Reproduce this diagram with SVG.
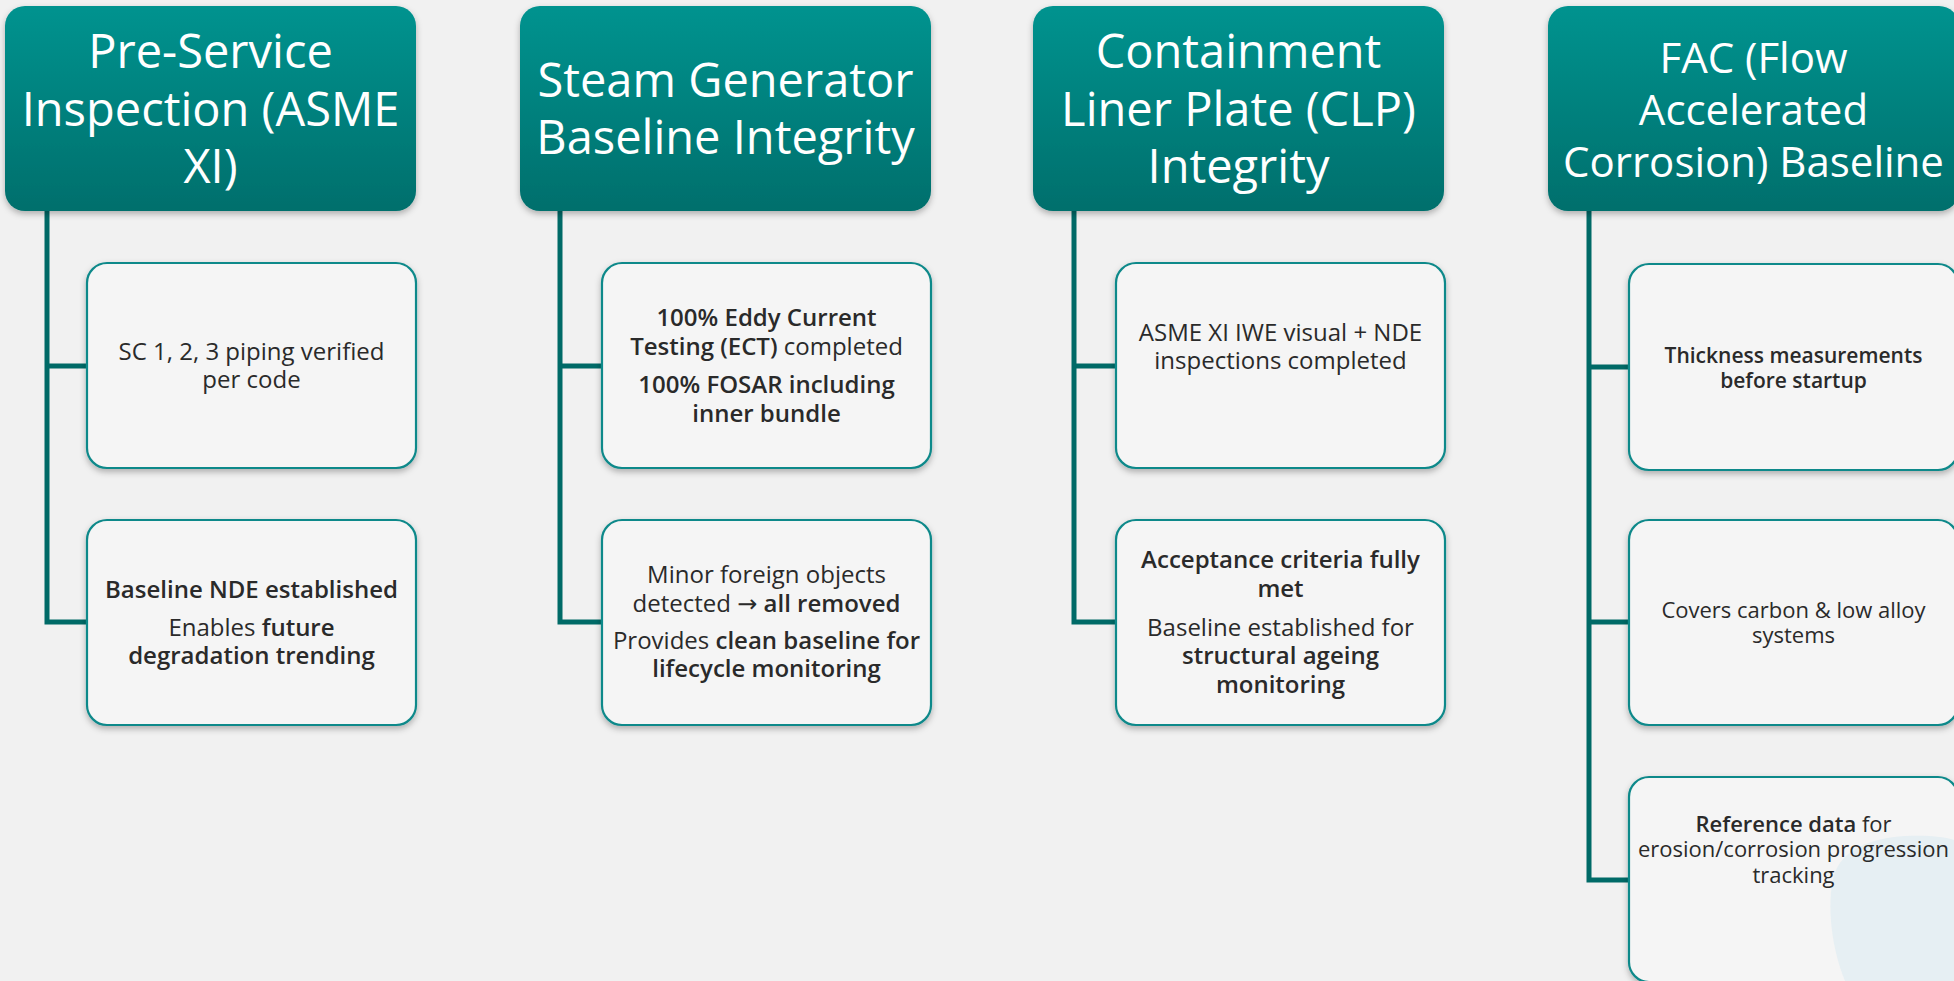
<svg xmlns="http://www.w3.org/2000/svg" width="1954" height="981" viewBox="0 0 1954 981">
  <defs>
    <linearGradient id="hdrGrad" x1="0" y1="0" x2="0" y2="1">
      <stop offset="0" stop-color="#03938f"/>
      <stop offset="1" stop-color="#006f6c"/>
    </linearGradient>
    <filter id="shadow" x="-10%" y="-10%" width="120%" height="125%">
      <feDropShadow dx="0" dy="3" stdDeviation="3" flood-color="#000" flood-opacity="0.28"/>
    </filter>
    <style>
      .hdr { fill: url(#hdrGrad); filter: url(#shadow); }
      .box { fill: #f5f5f5; stroke: #11898a; stroke-width: 2.2; filter: url(#shadow); }
      .htxt { font-family: "Open Sans", "Liberation Sans", sans-serif; font-size: 47px; fill: #ffffff; text-anchor: middle; }
      .htxt4 { font-size: 42px; }
      .btxt { font-family: "Open Sans", "Liberation Sans", sans-serif; font-size: 24px; font-weight: 400; fill: #2a2a2a; text-anchor: middle; }
      .small { font-size: 22px; }
      .smallb { font-size: 21px; }
      .b { font-weight: 600; }
      .arr { font-family: "DejaVu Sans", sans-serif; font-weight: 400; }
      .conn { fill: none; stroke: #006a67; stroke-width: 5; stroke-linejoin: miter; stroke-linecap: butt; }
    </style>
  </defs>

  <rect x="0" y="0" width="1954" height="981" fill="#f1f1f1"/>

  <g id="connectors">
    <path class="conn" d="M47 211 V622 H87"/>
    <path class="conn" d="M47 366 H87"/>
    <path class="conn" d="M560 211 V622 H602"/>
    <path class="conn" d="M560 366 H602"/>
    <path class="conn" d="M1074 211 V622 H1116"/>
    <path class="conn" d="M1074 366 H1116"/>
    <path class="conn" d="M1589 211 V880 H1629"/>
    <path class="conn" d="M1589 367 H1629"/>
    <path class="conn" d="M1589 622 H1629"/>
  </g>

  <!-- Column 1 -->
  <g id="hdr-psi">
    <rect class="hdr" x="5" y="6" width="411" height="205" rx="20"/>
    <text class="htxt" x="210.5" y="68">Pre-Service</text>
    <text class="htxt" x="210.5" y="126">Inspection (ASME</text>
    <text class="htxt" x="210.5" y="183">XI)</text>
  </g>
  <g id="psi-1">
    <rect class="box" x="87" y="263" width="329" height="205" rx="20"/>
    <text class="btxt" x="251.5" y="360">SC 1, 2, 3 piping verified</text>
    <text class="btxt" x="251.5" y="388">per code</text>
  </g>
  <g id="psi-2">
    <rect class="box" x="87" y="520" width="329" height="205" rx="20"/>
    <text class="btxt b" x="251.5" y="598">Baseline NDE established</text>
    <text class="btxt" x="251.5" y="636">Enables <tspan class="b">future</tspan></text>
    <text class="btxt b" x="251.5" y="664">degradation trending</text>
  </g>

  <!-- Column 2 -->
  <g id="hdr-sg">
    <rect class="hdr" x="520" y="6" width="411" height="205" rx="20"/>
    <text class="htxt" x="725.5" y="97">Steam Generator</text>
    <text class="htxt" x="725.5" y="154">Baseline Integrity</text>
  </g>
  <g id="sg-1">
    <rect class="box" x="602" y="263" width="329" height="205" rx="20"/>
    <text class="btxt b" x="766.5" y="326">100% Eddy Current</text>
    <text class="btxt" x="766.5" y="355"><tspan class="b">Testing (ECT)</tspan> completed</text>
    <text class="btxt b" x="766.5" y="393">100% FOSAR including</text>
    <text class="btxt b" x="766.5" y="422">inner bundle</text>
  </g>
  <g id="sg-2">
    <rect class="box" x="602" y="520" width="329" height="205" rx="20"/>
    <text class="btxt" x="766.5" y="583">Minor foreign objects</text>
    <text class="btxt" x="766.5" y="612">detected <tspan class="arr">→</tspan> <tspan class="b">all removed</tspan></text>
    <text class="btxt" x="766.5" y="649">Provides <tspan class="b">clean baseline for</tspan></text>
    <text class="btxt b" x="766.5" y="677">lifecycle monitoring</text>
  </g>

  <!-- Column 3 -->
  <g id="hdr-clp">
    <rect class="hdr" x="1033" y="6" width="411" height="205" rx="20"/>
    <text class="htxt" x="1238.5" y="68">Containment</text>
    <text class="htxt" x="1238.5" y="126">Liner Plate (CLP)</text>
    <text class="htxt" x="1238.5" y="183">Integrity</text>
  </g>
  <g id="clp-1">
    <rect class="box" x="1116" y="263" width="329" height="205" rx="20"/>
    <text class="btxt" x="1280.5" y="341">ASME XI IWE visual + NDE</text>
    <text class="btxt" x="1280.5" y="369">inspections completed</text>
  </g>
  <g id="clp-2">
    <rect class="box" x="1116" y="520" width="329" height="205" rx="20"/>
    <text class="btxt b" x="1280.5" y="568">Acceptance criteria fully</text>
    <text class="btxt b" x="1280.5" y="597">met</text>
    <text class="btxt" x="1280.5" y="636">Baseline established for</text>
    <text class="btxt b" x="1280.5" y="664">structural ageing</text>
    <text class="btxt b" x="1280.5" y="693">monitoring</text>
  </g>

  <!-- Column 4 -->
  <g id="hdr-fac">
    <rect class="hdr" x="1548" y="6" width="411" height="205" rx="20"/>
    <text class="htxt htxt4" x="1753.5" y="73">FAC (Flow</text>
    <text class="htxt htxt4" x="1753.5" y="125">Accelerated</text>
    <text class="htxt htxt4" x="1753.5" y="177">Corrosion) Baseline</text>
  </g>
  <g id="fac-1">
    <rect class="box" x="1629" y="264" width="329" height="206" rx="20"/>
    <text class="btxt smallb b" x="1793.5" y="363">Thickness measurements</text>
    <text class="btxt smallb b" x="1793.5" y="388">before startup</text>
  </g>
  <g id="fac-2">
    <rect class="box" x="1629" y="520" width="329" height="205" rx="20"/>
    <text class="btxt small" x="1793.5" y="618">Covers carbon &amp; low alloy</text>
    <text class="btxt small" x="1793.5" y="643">systems</text>
  </g>
  <g id="fac-3">
    <rect class="box" x="1629" y="777" width="329" height="205" rx="20"/>
    <path d="M1845 981 C1832 950 1826 905 1834 875 C1842 850 1870 838 1905 836 C1930 835 1945 837 1954 840 L1954 981 Z" fill="#e6eff3"/>
    <text class="btxt small" x="1793.5" y="832"><tspan class="b">Reference data</tspan> for</text>
    <text class="btxt small" x="1793.5" y="857">erosion/corrosion progression</text>
    <text class="btxt small" x="1793.5" y="883">tracking</text>
  </g>
</svg>
